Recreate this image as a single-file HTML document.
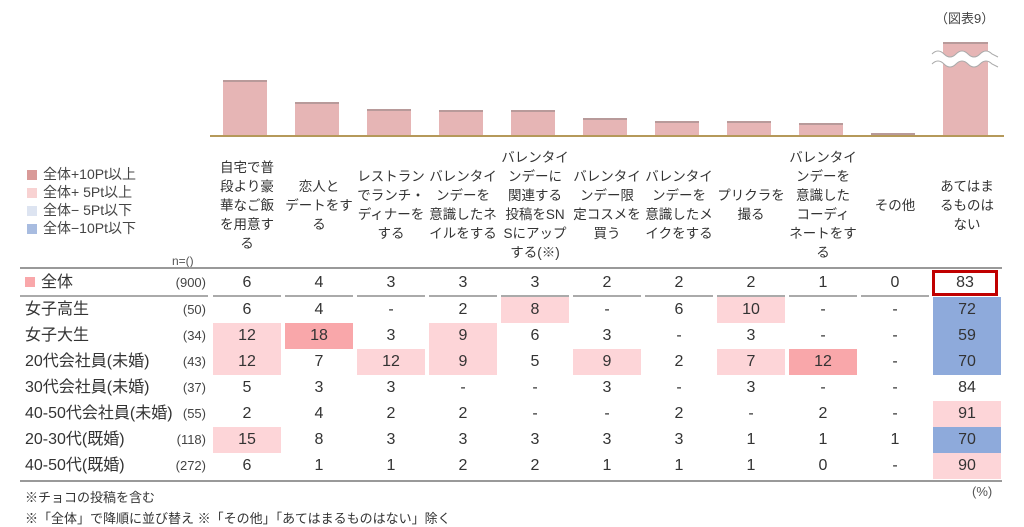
<!DOCTYPE html>
<html><head><meta charset="utf-8"><style>
*{margin:0;padding:0;box-sizing:border-box}
body{width:1024px;height:527px;background:#fff;position:relative;overflow:hidden;font-family:"Liberation Sans","Noto Sans CJK JP",sans-serif;color:#333}
.a{position:absolute}
.bar{position:absolute;background:#e6b5b5;border-top:2px solid #b89a9a;width:44px}
.hd{position:absolute;top:150px;width:72px;height:110px;display:flex;align-items:center;justify-content:center;text-align:center;font-size:13.5px;line-height:19px;color:#333}
.row{position:absolute;left:0;width:1024px;height:26px}
.lab{position:absolute;left:25px;top:0;line-height:26px;font-size:16px;color:#333}
.n{position:absolute;right:818px;top:0;line-height:26px;font-size:13px;color:#444}
.cells{position:absolute;left:213px;top:0;display:flex}
.cells span{display:block;width:68px;margin-right:4px;height:26px;line-height:26px;text-align:center;font-size:16px;color:#333}
.p{background:#fdd5d8}.d{background:#f9a7aa}.b{background:#8eaadb}
.lg{position:absolute;left:27px;font-size:14px;line-height:16px;color:#444}
.lg i{display:inline-block;width:10px;height:10px;margin-right:6px;vertical-align:-1px}
.seg{position:absolute;top:295px;height:2px;background:#aaa}
</style></head><body>
<div class="a" style="left:935px;top:8px;font-size:13px;color:#444">（図表9）</div>
<div class="bar" style="left:223px;top:80px;height:56px"></div>
<div class="bar" style="left:295px;top:102px;height:34px"></div>
<div class="bar" style="left:367px;top:109px;height:27px"></div>
<div class="bar" style="left:439px;top:110px;height:26px"></div>
<div class="bar" style="left:511px;top:110px;height:26px"></div>
<div class="bar" style="left:583px;top:118px;height:18px"></div>
<div class="bar" style="left:655px;top:121px;height:15px"></div>
<div class="bar" style="left:727px;top:121px;height:15px"></div>
<div class="bar" style="left:799px;top:123px;height:13px"></div>
<div class="bar" style="left:871px;top:133px;height:3px"></div>
<div class="bar" style="left:943px;top:42px;height:94px;width:45px"></div>
<svg class="a" style="left:930px;top:46px" width="70" height="24"><path d="M2 8 Q8 2 14 8 T26 8 T38 8 T50 8 T62 8 L68 8 L68 18 L62 18 Q56 12 50 18 T38 18 T26 18 T14 18 L2 18Z" fill="#fff"/><path d="M2 8 Q8 2 14 8 T26 8 T38 8 T50 8 T62 8 L68 11 M2 18 Q8 12 14 18 T26 18 T38 18 T50 18 T62 18 L68 21" fill="none" stroke="#aaa" stroke-width="1"/></svg>
<div class="a" style="left:210px;top:135px;width:794px;height:2px;background:#b5995a"></div>

<div class="lg" style="top:166px"><i style="background:#d99a98"></i>全体+10Pt以上</div>
<div class="lg" style="top:184px"><i style="background:#f8d2d2"></i>全体+ 5Pt以上</div>
<div class="lg" style="top:202px"><i style="background:#dde4f1"></i>全体− 5Pt以下</div>
<div class="lg" style="top:220px"><i style="background:#a8bce0"></i>全体−10Pt以下</div>
<div class="a" style="left:172px;top:254px;font-size:12px;color:#555">n=()</div>

<div class="hd" style="left:211px">自宅で普<br>段より豪<br>華なご飯<br>を用意す<br>る</div>
<div class="hd" style="left:283px">恋人と<br>デートをす<br>る</div>
<div class="hd" style="left:355px">レストラン<br>でランチ・<br>ディナーを<br>する</div>
<div class="hd" style="left:427px">バレンタイ<br>ンデーを<br>意識したネ<br>イルをする</div>
<div class="hd" style="left:499px">バレンタイ<br>ンデーに<br>関連する<br>投稿をSN<br>Sにアップ<br>する(※)</div>
<div class="hd" style="left:571px">バレンタイ<br>ンデー限<br>定コスメを<br>買う</div>
<div class="hd" style="left:643px">バレンタイ<br>ンデーを<br>意識したメ<br>イクをする</div>
<div class="hd" style="left:715px">プリクラを<br>撮る</div>
<div class="hd" style="left:787px">バレンタイ<br>ンデーを<br>意識した<br>コーディ<br>ネートをす<br>る</div>
<div class="hd" style="left:859px">その他</div>
<div class="hd" style="left:931px">あてはま<br>るものは<br>ない</div>

<div class="a" style="left:20px;top:267px;width:982px;height:2px;background:#999"></div>

<div class="row" style="top:270px"><div class="lab"><i style="display:inline-block;width:10px;height:10px;background:#f9a7aa;margin-right:6px"></i>全体</div><div class="n">(900)</div>
<div class="cells"><span>6</span><span>4</span><span>3</span><span>3</span><span>3</span><span>2</span><span>2</span><span>2</span><span>1</span><span>0</span><span style="width:66px;margin-left:-1px;border:3px solid #c00000;line-height:20px">83</span></div></div>
<div class="seg" style="left:20px;width:188px"></div>
<div class="seg" style="left:213px;width:68px"></div><div class="seg" style="left:285px;width:68px"></div><div class="seg" style="left:357px;width:68px"></div><div class="seg" style="left:429px;width:68px"></div><div class="seg" style="left:501px;width:68px"></div><div class="seg" style="left:573px;width:68px"></div><div class="seg" style="left:645px;width:68px"></div><div class="seg" style="left:717px;width:68px"></div><div class="seg" style="left:789px;width:68px"></div><div class="seg" style="left:861px;width:68px"></div>

<div class="row" style="top:297px"><div class="lab">女子高生</div><div class="n">(50)</div>
<div class="cells"><span>6</span><span>4</span><span>-</span><span>2</span><span class="p">8</span><span>-</span><span>6</span><span class="p">10</span><span>-</span><span>-</span><span class="b">72</span></div></div>
<div class="row" style="top:323px"><div class="lab">女子大生</div><div class="n">(34)</div>
<div class="cells"><span class="p">12</span><span class="d">18</span><span>3</span><span class="p">9</span><span>6</span><span>3</span><span>-</span><span>3</span><span>-</span><span>-</span><span class="b">59</span></div></div>
<div class="row" style="top:349px"><div class="lab">20代会社員(未婚)</div><div class="n">(43)</div>
<div class="cells"><span class="p">12</span><span>7</span><span class="p">12</span><span class="p">9</span><span>5</span><span class="p">9</span><span>2</span><span class="p">7</span><span class="d">12</span><span>-</span><span class="b">70</span></div></div>
<div class="row" style="top:375px"><div class="lab">30代会社員(未婚)</div><div class="n">(37)</div>
<div class="cells"><span>5</span><span>3</span><span>3</span><span>-</span><span>-</span><span>3</span><span>-</span><span>3</span><span>-</span><span>-</span><span>84</span></div></div>
<div class="row" style="top:401px"><div class="lab">40-50代会社員(未婚)</div><div class="n">(55)</div>
<div class="cells"><span>2</span><span>4</span><span>2</span><span>2</span><span>-</span><span>-</span><span>2</span><span>-</span><span>2</span><span>-</span><span class="p">91</span></div></div>
<div class="row" style="top:427px"><div class="lab">20-30代(既婚)</div><div class="n">(118)</div>
<div class="cells"><span class="p">15</span><span>8</span><span>3</span><span>3</span><span>3</span><span>3</span><span>3</span><span>1</span><span>1</span><span>1</span><span class="b">70</span></div></div>
<div class="row" style="top:453px"><div class="lab">40-50代(既婚)</div><div class="n">(272)</div>
<div class="cells"><span>6</span><span>1</span><span>1</span><span>2</span><span>2</span><span>1</span><span>1</span><span>1</span><span>0</span><span>-</span><span class="p">90</span></div></div>

<div class="a" style="left:20px;top:480px;width:982px;height:2px;background:#999"></div>
<div class="a" style="left:972px;top:484px;font-size:13px;color:#555">(%)</div>
<div class="a" style="left:25px;top:487px;font-size:13px;color:#333">※チョコの投稿を含む</div>
<div class="a" style="left:25px;top:508px;font-size:13px;color:#333">※「全体」で降順に並び替え ※「その他」「あてはまるものはない」除く</div>
</body></html>
